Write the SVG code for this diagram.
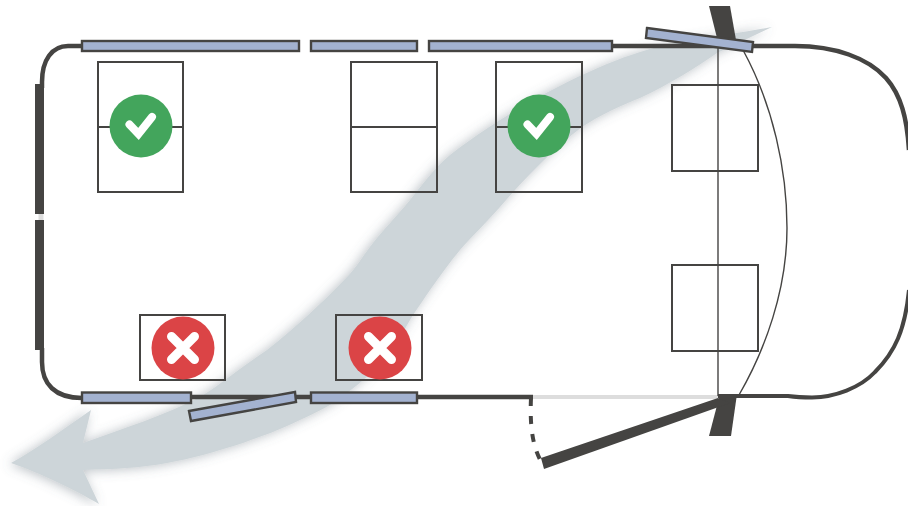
<svg xmlns="http://www.w3.org/2000/svg" width="908" height="506" viewBox="0 0 908 506">
<style>
.wall{fill:none;stroke:#454442;stroke-width:4.500}
.dark{fill:#454442;stroke:none}
.win{fill:#a3b2d0;stroke:#454442;stroke-width:2.400}
.seat{fill:none;stroke:#454442;stroke-width:2}
.thin{fill:none;stroke:#454442;stroke-width:1.400}
.mark{fill:none;stroke:#fff;stroke-width:8}
.ok{fill:#43a55c}
.no{fill:#db4446}
</style>
<defs>
<filter id="sh" x="-10%" y="-15%" width="120%" height="130%"><feDropShadow dx="-2" dy="1" stdDeviation="6" flood-color="#5f6b78" flood-opacity=".42"/></filter>
</defs>
<rect width="908" height="506" fill="#fff"/>
<g id="flow">
<path filter="url(#sh)" fill="#cdd5d9" d="M772,27 C725,36 685,38 640,52 C585,69 505,112 450,155 C432,170 420,188 410,200 C395,218 385,228 373,243 C362,257 356,268 347,277 C320,305 295,328 267,350 C240,368 220,385 200,397 C165,415 125,428 83,443 L91,410 C65,428 35,450 11,463 C40,473 75,490 99,504 L83,470 C115,469 140,468 167,463 C190,459 215,452 243,443 C262,436 280,430 300,420 C318,412 332,405 347,393 C362,382 375,370 387,357 C397,345 405,328 413,315 C420,305 425,297 430,290 C440,276 450,262 460,250 C472,236 487,222 500,207 C525,178 555,147 582,127 C600,115 620,106 640,98 C670,84 695,68 717,53 Z"/>
</g>
<g id="connectors">
<path class="wall" d="M82,46H68C52,46 42,60 42,82V88"/>
<path class="wall" d="M42,348V362C42,384 55,398 82,398"/>
<path class="wall" d="M82,397H533"/>
<path d="M533,397H718" fill="none" stroke="#ddd" stroke-width="4"/>
<path class="wall" d="M612,46H795C835,46 868,58 886,78C901,95 907,118 909,150"/>
<path d="M718,396H788C795,397 802,397.500 812,397.500C835,397 860,388 875,372C895,352 905,330 909,290" fill="none" stroke="#454442" stroke-width="4"/>
<path d="M41,214V220" stroke="#ddd" stroke-width="5" fill="none"/>
<path class="thin" d="M718,46V396"/>
<path class="thin" d="M743,50C773,105 787,170 787,228C787,290 765,350 739,395"/>
<path d="M531,398C530,420 531,445 542,463" fill="none" stroke="#454442" stroke-width="4" stroke-dasharray="8 10"/>
</g>
<g id="left-wall">
<rect class="dark" x="35" y="84" width="9" height="130"/>
<rect class="dark" x="35" y="220" width="9" height="130"/>
</g>
<g id="door-posts">
<polygon class="dark" points="709,6 730,6 736,40 717,38"/>
<polygon class="dark" points="720,394 737,394 731,436 709,436"/>
<polygon class="dark" points="718,398 730,403 544,469 541,458"/>
</g>
<g id="seat-a"><rect class="seat" x="98" y="62" width="85" height="130"/><path class="seat" d="M98,127H183"/></g>
<g id="seat-b"><rect class="seat" x="351" y="62" width="86" height="130"/><path class="seat" d="M351,127H437"/></g>
<g id="seat-c"><rect class="seat" x="496" y="62" width="86" height="130"/><path class="seat" d="M496,127H582"/></g>
<g id="seat-d"><rect class="seat" x="672" y="85" width="86" height="86"/></g>
<g id="seat-e"><rect class="seat" x="672" y="265" width="86" height="86"/></g>
<g id="seat-f"><rect class="seat" x="140" y="315" width="85" height="65"/></g>
<g id="seat-g"><rect class="seat" x="336" y="315" width="86" height="65"/></g>
<g id="windows">
<rect class="win" x="82" y="41" width="217" height="10"/>
<rect class="win" x="311" y="41" width="106" height="10"/>
<rect class="win" x="429" y="41" width="183" height="10"/>
<rect class="win" x="82" y="392.500" width="109" height="10.500"/>
<rect class="win" x="311" y="392.500" width="106" height="10.500"/>
<polygon class="win" points="647,28 753,42 752,52 646,38"/>
<polygon class="win" points="189,411 295,392 296,402 191,421"/>
</g>
<g id="ok-1"><circle class="ok" cx="141" cy="126" r="31.500"/><path class="mark" stroke-linecap="round" d="M129.500,124.500L138.500,134L152,117"/></g>
<g id="ok-2"><circle class="ok" cx="539" cy="126" r="31.500"/><path class="mark" stroke-linecap="round" d="M527.500,124.500L536.500,134L550,117"/></g>
<g id="no-1"><circle class="no" cx="183" cy="348" r="31.500"/><path class="mark" stroke-linecap="round" style="stroke-width:9" d="M171.500,336.500L194.500,359.500M194.500,336.500L171.500,359.500"/></g>
<g id="no-2"><circle class="no" cx="380" cy="348" r="31.500"/><path class="mark" stroke-linecap="round" style="stroke-width:9" d="M368.500,336.500L391.500,359.500M391.500,336.500L368.500,359.500"/></g>
</svg>
